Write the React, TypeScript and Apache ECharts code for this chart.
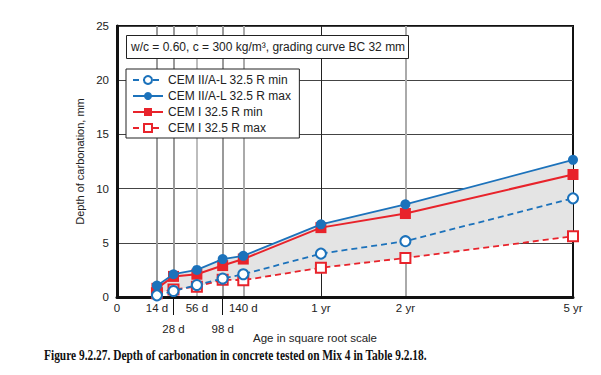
import React, { useEffect, useRef } from "react";
import * as echarts from "echarts";

// Ages (days) of the measurements
const ageDays = [14, 28, 56, 98, 140, 365, 730, 1825];
// Depth of carbonation (mm)
const cem2Min = [0.15, 0.55, 1.1, 1.7, 2.1, 4.0, 5.15, 9.1];
const cem2Max = [1.05, 2.1, 2.5, 3.5, 3.8, 6.7, 8.55, 12.65];
const cem1Min = [0.8, 1.9, 2.1, 2.9, 3.5, 6.4, 7.7, 11.3];
const cem1Max = [0.35, 0.7, 0.95, 1.6, 1.55, 2.7, 3.6, 5.6];

// Tick labels on the square-root age axis
const tickDays = [0, 14, 28, 56, 98, 140, 365, 730, 1825];
const tickLabels = ["0", "14 d", "28 d", "56 d", "98 d", "140 d", "1 yr", "2 yr", "5 yr"];
const lowerRowDays = [28, 98];
const gridDays = [14, 28, 56, 98, 140, 365, 730];

const seriesNames = [
  "CEM II/A-L 32.5 R min",
  "CEM II/A-L 32.5 R max",
  "CEM I 32.5 R min",
  "CEM I 32.5 R max",
];

const BLUE = "#1c72bb";
const RED = "#e8232b";
const FONT = "'Liberation Sans', Arial, Helvetica, sans-serif";

const toPts = (vals: number[]) => ageDays.map((d, i) => [Math.sqrt(d), vals[i]]);

export default function App() {
  const ref = useRef<HTMLDivElement>(null);
  useEffect(() => {
    if (!ref.current) return;
    const chart = echarts.init(ref.current, null, { renderer: "svg" });
    const xMax = Math.sqrt(1825);
    const gridStyles: Record<number, any> = {
      14: { color: "#9a9a9a", width: 2 },
      28: { color: "#9a9a9a", width: 2 },
      56: { color: "#bdbdbd", width: 2 },
      98: { color: "#9a9a9a", width: 2 },
      140: { color: "#aaaaaa", width: 2 },
      365: { color: "#222222", width: 1 },
      730: { color: "#aaaaaa", width: 2 },
    };
    const labelFor = (v: number) => {
      let best = 0;
      tickDays.forEach((d, i) => {
        if (Math.abs(Math.sqrt(d) - v) < Math.abs(Math.sqrt(tickDays[best]) - v)) best = i;
      });
      const lower = lowerRowDays.includes(tickDays[best]);
      return (lower ? "\n" : "") + tickLabels[best];
    };
    const option: any = {
      animation: false,
      textStyle: { fontFamily: FONT },
      title: {
        text: "w/c = 0.60, c = 300 kg/m³, grading curve BC 32 mm",
        left: 126,
        top: 35,
        z: 20,
        padding: [6, 4, 6, 5],
        borderColor: "#222",
        borderWidth: 1,
        backgroundColor: "#fff",
        textStyle: { fontSize: 12, fontWeight: "normal", color: "#222", fontFamily: FONT },
      },
      legend: {
        data: seriesNames,
        orient: "vertical",
        left: 126,
        top: 69,
        z: 20,
        itemWidth: 30,
        itemHeight: 10,
        itemGap: 4,
        padding: [5, 8, 4, 6],
        borderColor: "#222",
        borderWidth: 1,
        backgroundColor: "#fff",
        textStyle: { fontSize: 12, color: "#222", fontFamily: FONT },
      },
      grid: {
        left: 117,
        right: 28,
        top: 26,
        bottom: 78,
        show: true,
        borderColor: "#111",
        borderWidth: 2,
      },
      xAxis: {
        type: "value",
        min: 0,
        max: xMax,
        axisLine: { show: true, onZero: false, lineStyle: { color: "#111", width: 3 } },
        splitLine: { show: false },
        axisTick: {
          show: true,
          customValues: lowerRowDays.map((d) => Math.sqrt(d)),
          length: 18,
          lineStyle: { color: "#111", width: 1 },
        },
        axisLabel: {
          customValues: tickDays.map((d) => Math.sqrt(d)),
          formatter: (v: number) => labelFor(v),
          margin: 0,
          fontSize: 11.5,
          lineHeight: 21,
          color: "#222",
          fontFamily: FONT,
        },
      },
      yAxis: {
        type: "value",
        min: 0,
        max: 25,
        interval: 5,
        name: "Depth of carbonation, mm",
        nameLocation: "middle",
        nameGap: 24,
        nameTextStyle: { fontSize: 11, color: "#222", fontFamily: FONT },
        axisLine: { show: true, lineStyle: { color: "#111", width: 3 } },
        axisTick: { show: false },
        splitLine: { show: true, lineStyle: { color: "#444", width: 1 } },
        axisLabel: { fontSize: 11.5, color: "#222", margin: 8, fontFamily: FONT },
      },
      graphic: [
        {
          type: "text",
          left: 253,
          top: 332,
          style: { text: "Age in square root scale", fontSize: 11.5, fill: "#222", fontFamily: FONT },
        },
        {
          type: "text",
          x: 44,
          y: 349,
          scaleX: 0.815,
          style: {
            text: "Figure 9.2.27. Depth of carbonation in concrete tested on Mix 4 in Table 9.2.18.",
            fontSize: 14,
            fontWeight: "bold",
            fill: "#111",
            fontFamily: "'Liberation Serif', 'DejaVu Serif', serif",
          },
        },
      ],
      series: [
        {
          type: "line",
          data: [],
          z: 0,
          silent: true,
          markLine: {
            silent: true,
            symbol: "none",
            z: 0,
            label: { show: false },
            data: gridDays.map((d) => ({ xAxis: Math.sqrt(d), lineStyle: { ...gridStyles[d], type: "solid" } })),
          },
        },
        {
          type: "custom",
          z: 1,
          silent: true,
          data: [[0, 0]],
          renderItem: (params: any, api: any) => {
            const top = toPts(cem2Max).map((p) => api.coord(p));
            const bottom = toPts(cem1Max).map((p) => api.coord(p)).reverse();
            return {
              type: "polygon",
              shape: { points: top.concat(bottom) },
              style: { fill: "#e4e4e4", stroke: "none" },
            };
          },
        },
        {
          name: seriesNames[3],
          type: "line",
          z: 3,
          data: toPts(cem1Max),
          symbol: "emptyRect",
          symbolSize: 10,
          lineStyle: { color: RED, width: 1.8, type: [6, 4] },
          itemStyle: { color: RED, borderColor: RED, borderWidth: 2 },
        },
        {
          name: seriesNames[2],
          type: "line",
          z: 4,
          data: toPts(cem1Min),
          symbol: "rect",
          symbolSize: 11,
          lineStyle: { color: RED, width: 2 },
          itemStyle: { color: RED },
        },
        {
          name: seriesNames[1],
          type: "line",
          z: 5,
          data: toPts(cem2Max),
          symbol: "circle",
          symbolSize: 10,
          lineStyle: { color: BLUE, width: 1.8 },
          itemStyle: { color: BLUE },
        },
        {
          name: seriesNames[0],
          type: "line",
          z: 6,
          data: toPts(cem2Min),
          symbol: "emptyCircle",
          symbolSize: 10,
          lineStyle: { color: BLUE, width: 1.8, type: [6, 4] },
          itemStyle: { color: BLUE, borderColor: BLUE, borderWidth: 2 },
        },
      ],
    };
    chart.setOption(option);
    return () => chart.dispose();
  }, []);
  return (
    <div
      ref={ref}
      style={{ position: "fixed", left: 0, top: 0, width: 601, height: 375, background: "#fff" }}
    />
  );
}
